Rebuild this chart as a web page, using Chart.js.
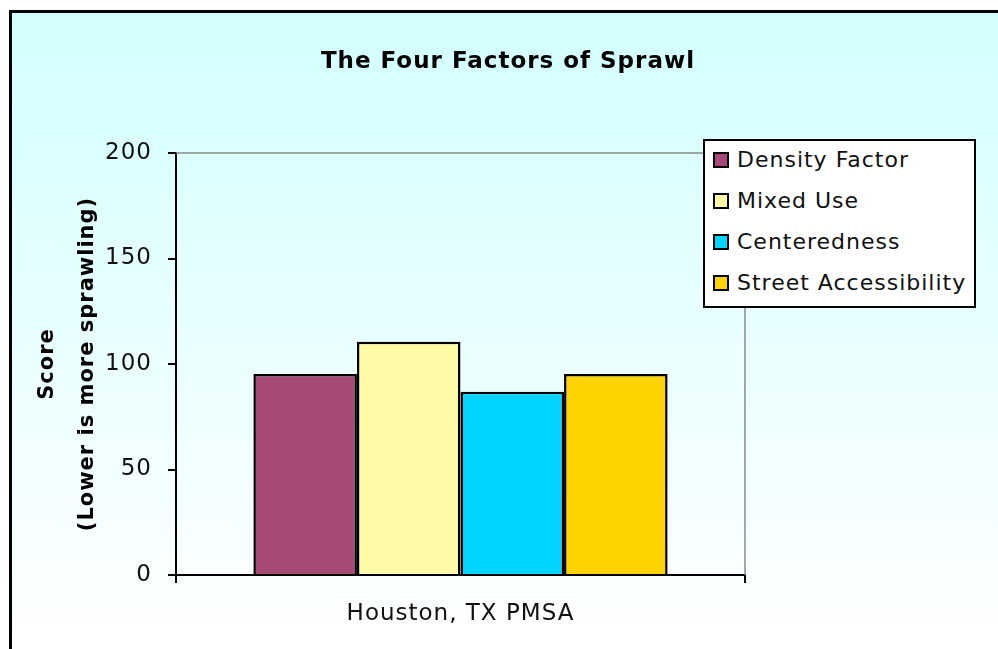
<!DOCTYPE html>
<html>
<head>
<meta charset="utf-8">
<script src="https://cdn.jsdelivr.net/npm/chart.js@4.4.1/dist/chart.umd.min.js"></script>
<style>
  body { margin: 0; background: #fff; }
  #wrap { position: relative; width: 998px; height: 649px; }
  #legend {
    position: absolute; left: 703px; top: 139px; width: 273px; height: 169px;
    box-sizing: border-box; border: 2px solid #000; background: #fff;
    font-family: "DejaVu Sans"; font-size: 22px; letter-spacing: 1px; color: #111;
  }
  #legend .rows { margin-top: -2px; }
  #legend .row { display: flex; align-items: center; height: 41px; white-space: nowrap; }
  #legend .sw { width: 16px; height: 16px; box-sizing: border-box; border: 2px solid #000; margin: 0 8px 0 8px; }
</style>
</head>
<body>
<div id="wrap">
  <canvas id="chart" width="998" height="649"></canvas>
  <div id="legend"><div class="rows"></div></div>
</div>
<script>
const chartTitle = "The Four Factors of Sprawl";
const categories = ["Houston, TX PMSA"];
const seriesNames = ["Density Factor", "Mixed Use", "Centeredness", "Street Accessibility"];
const densityFactor = [95.3];
const mixedUse = [110.6];
const centeredness = [86.9];
const streetAccessibility = [95.3];
const yTicks = [0, 50, 100, 150, 200];
const seriesColors = ["#a84a76", "#fffaa6", "#00d5ff", "#ffd300"];

const seriesValues = [densityFactor, mixedUse, centeredness, streetAccessibility];

Chart.defaults.font.family = '"DejaVu Sans"';
Chart.defaults.color = "#111";

// background gradient, outer frame, title and the grey plot border
const frame = {
  id: "frame",
  beforeUpdate(chart) { chart.ctx.letterSpacing = "1px"; },
  beforeDraw(chart) {
    const ctx = chart.ctx;
    ctx.letterSpacing = "1px";
    ctx.save();
    ctx.fillStyle = "#fff";
    ctx.fillRect(0, 0, chart.width, chart.height);
    const g = ctx.createLinearGradient(0, 12, 0, chart.height);
    g.addColorStop(0, "#d2ffff");
    g.addColorStop(1, "#ffffff");
    ctx.fillStyle = g;
    ctx.fillRect(10, 11, chart.width - 10, chart.height - 11);
    ctx.fillStyle = "#000";
    ctx.fillRect(9, 10, 3, chart.height - 10);
    ctx.fillRect(9, 10, chart.width - 9, 3);
    ctx.font = 'bold 23px "DejaVu Sans"';
    ctx.textAlign = "center";
    ctx.textBaseline = "middle";
    ctx.fillText(chartTitle, 508, 62);
    ctx.restore();
  },
  beforeDatasetsDraw(chart) {
    const { ctx, chartArea: a } = chart;
    ctx.save();
    ctx.strokeStyle = "#8a8a8a";
    ctx.lineWidth = 1.5;
    ctx.beginPath();
    ctx.moveTo(a.left, a.top);
    ctx.lineTo(a.right, a.top);
    ctx.lineTo(a.right, a.bottom);
    ctx.stroke();
    ctx.restore();
  }
};

const chart = new Chart(document.getElementById("chart"), {
  type: "bar",
  data: {
    labels: categories,
    datasets: seriesNames.map((name, i) => ({
      label: name,
      data: seriesValues[i],
      backgroundColor: seriesColors[i],
      borderColor: "#000",
      borderWidth: 2.5,
      categoryPercentage: 0.728,
      barPercentage: 1
    }))
  },
  options: {
    responsive: false,
    animation: false,
    layout: { padding: { left: 0, right: 253, top: 153, bottom: 0 } },
    plugins: {
      legend: { display: false },
      title: { display: false },
      tooltip: { enabled: false }
    },
    scales: {
      x: {
        grid: { drawOnChartArea: false, color: "#000", lineWidth: 2, tickLength: 8 },
        border: { color: "#000", width: 2 },
        ticks: { font: { size: 23 }, color: "#111", padding: 17 },
        afterFit(scale) { scale.height = 74; }
      },
      y: {
        min: yTicks[0],
        max: yTicks[yTicks.length - 1],
        afterBuildTicks(scale) { scale.ticks = yTicks.map((v) => ({ value: v })); },
        grid: { drawOnChartArea: false, color: "#000", lineWidth: 2, tickLength: 8 },
        border: { color: "#000", width: 2 },
        ticks: { font: { size: 23 }, color: "#111", padding: 16 },
        title: {
          display: true,
          text: ["Score", "(Lower is more sprawling)"],
          font: { size: 21, weight: "bold", lineHeight: 1.9 },
          color: "#000",
          padding: { top: 28, bottom: 0 }
        },
        afterFit(scale) { scale.width = 176; }
      }
    }
  },
  plugins: [frame]
});

// legend built from the same series arrays
const rows = document.querySelector("#legend .rows");
seriesNames.forEach((name, i) => {
  const row = document.createElement("div");
  row.className = "row";
  row.innerHTML = `<span class="sw" style="background:${seriesColors[i]}"></span><span>${name}</span>`;
  rows.appendChild(row);
});
</script>
</body>
</html>
